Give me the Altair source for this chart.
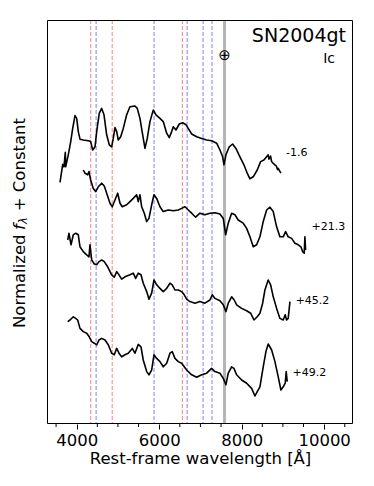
import altair as alt
import pandas as pd

# ---- spectra (rest wavelength [A], normalized flux + constant) ----
wl_a = [3595, 3661, 3692, 3724, 3733, 3796, 3855, 3903, 3959, 4000, 4039, 4080, 4160, 4281, 4339,
        4388, 4444, 4485, 4548, 4606, 4662, 4727, 4790, 4848, 4887, 4928, 4970, 5008, 5067, 5130,
        5212, 5292, 5413, 5469, 5534, 5600, 5656, 5711, 5777, 5857, 5922, 6019, 6099, 6182, 6245,
        6303, 6342, 6407, 6487, 6569, 6649, 6705, 6788, 6909, 7030, 7151, 7272, 7394, 7474, 7539,
        7571, 7619, 7699, 7781, 7861, 7958, 8055, 8135, 8201, 8281, 8378, 8460, 8540, 8644, 8660,
        8700, 8727, 8760, 8807, 8840, 8870, 8887, 8920, 8952]
fl_a = [6.04, 6.49, 6.43, 6.79, 6.43, 6.73, 7.06, 7.39, 7.71, 7.64, 7.31, 7.12, 7.10, 7.08, 7.06,
        6.85, 6.93, 7.31, 7.77, 7.89, 7.73, 7.23, 6.98, 6.93, 7.14, 7.41, 7.31, 7.10, 7.18, 7.39,
        7.73, 7.93, 7.95, 7.89, 7.64, 7.23, 6.89, 7.14, 7.56, 7.85, 7.73, 7.64, 7.56, 7.27, 7.16,
        7.31, 7.43, 7.35, 7.50, 7.53, 7.48, 7.39, 7.25, 7.18, 7.14, 7.10, 7.08, 7.02, 6.85, 6.68,
        6.48, 6.73, 6.93, 7.00, 6.89, 6.68, 6.48, 6.27, 6.13, 6.18, 6.35, 6.56, 6.60, 6.73, 6.62,
        6.70, 6.56, 6.52, 6.48, 6.45, 6.36, 6.39, 6.33, 6.27]

wl_b = [4160, 4201, 4267, 4298, 4339, 4402, 4461, 4524, 4606, 4669, 4727, 4807, 4863, 4928, 4994,
        5050, 5105, 5212, 5292, 5372, 5454, 5493, 5534, 5576, 5639, 5697, 5753, 5818, 5874, 5939,
        6019, 6099, 6220, 6342, 6463, 6545, 6625, 6705, 6788, 6885, 6989, 7110, 7231, 7352, 7474,
        7554, 7612, 7675, 7757, 7837, 7917, 8038, 8121, 8201, 8281, 8363, 8443, 8523, 8606, 8686,
        8766, 8848, 8928, 9008, 9066, 9129, 9212, 9292, 9372, 9437, 9478, 9517, 9534, 9551]
fl_b = [6.35, 6.27, 6.23, 6.31, 6.10, 5.89, 5.81, 5.93, 6.02, 5.95, 5.77, 5.52, 5.43, 5.60, 5.77,
        5.52, 5.43, 5.48, 5.56, 5.64, 5.73, 5.56, 5.73, 5.43, 5.27, 5.06, 5.14, 5.48, 5.73, 5.64,
        5.43, 5.31, 5.35, 5.33, 5.35, 5.39, 5.43, 5.35, 5.27, 5.17, 5.27, 5.23, 5.27, 5.28, 5.25,
        5.14, 4.73, 5.02, 5.27, 5.23, 5.10, 5.02, 4.89, 4.68, 4.43, 4.48, 4.68, 5.06, 5.35, 5.42,
        5.31, 4.93, 4.68, 4.68, 4.81, 4.68, 4.64, 4.52, 4.48, 4.43, 4.31, 4.27, 4.68, 4.35]

wl_c = [3782, 3813, 3862, 3918, 3976, 4039, 4080, 4160, 4242, 4298, 4322, 4364, 4427, 4485, 4541,
        4606, 4669, 4751, 4848, 4911, 4970, 5025, 5091, 5171, 5292, 5372, 5430, 5493, 5559, 5614,
        5697, 5753, 5818, 5874, 5939, 6019, 6099, 6182, 6262, 6317, 6383, 6463, 6545, 6608, 6666,
        6746, 6868, 6989, 7110, 7231, 7287, 7352, 7474, 7554, 7619, 7675, 7757, 7820, 7878, 7999,
        8121, 8218, 8298, 8378, 8443, 8509, 8564, 8644, 8703, 8766, 8848, 8928, 9008, 9056, 9090,
        9129, 9171]
fl_c = [4.60, 4.77, 4.48, 4.73, 4.77, 4.73, 4.43, 4.31, 4.23, 4.18, 4.48, 4.10, 4.00, 3.98, 4.06,
        4.10, 4.06, 3.93, 3.73, 3.67, 3.81, 3.73, 3.62, 3.68, 3.73, 3.77, 3.64, 3.77, 3.73, 3.52,
        3.31, 3.12, 3.27, 3.60, 3.48, 3.39, 3.31, 3.39, 3.52, 3.48, 3.35, 3.35, 3.31, 3.23, 3.12,
        3.06, 3.02, 3.06, 3.02, 3.10, 3.23, 3.14, 3.08, 2.98, 2.81, 3.02, 3.18, 3.10, 2.98, 2.89,
        2.83, 2.77, 2.60, 2.68, 2.77, 3.02, 3.35, 3.60, 3.48, 3.18, 2.89, 2.64, 2.60, 2.73, 2.60,
        2.64, 3.06]

wl_d = [3782, 3838, 3918, 3976, 4024, 4080, 4160, 4242, 4305, 4364, 4427, 4485, 4541, 4606, 4686,
        4766, 4848, 4911, 4970, 5025, 5091, 5171, 5251, 5348, 5413, 5493, 5559, 5614, 5697, 5753,
        5818, 5874, 5939, 6019, 6099, 6182, 6262, 6317, 6383, 6463, 6545, 6608, 6666, 6788, 6909,
        7030, 7151, 7272, 7352, 7474, 7554, 7619, 7675, 7757, 7813, 7878, 7999, 8121, 8242, 8322,
        8378, 8443, 8523, 8589, 8644, 8727, 8807, 8887, 8952, 9008, 9056, 9080, 9105]
fl_d = [2.56, 2.60, 2.68, 2.64, 2.60, 2.39, 2.31, 2.27, 2.18, 2.06, 2.02, 1.98, 2.10, 2.14, 2.10,
        1.98, 1.77, 1.73, 1.89, 1.77, 1.68, 1.73, 1.77, 1.89, 1.77, 1.99, 1.93, 1.60, 1.31, 1.23,
        1.35, 1.73, 1.64, 1.56, 1.43, 1.52, 1.77, 1.81, 1.64, 1.56, 1.52, 1.43, 1.35, 1.23, 1.17,
        1.23, 1.27, 1.39, 1.31, 1.27, 1.14, 0.98, 1.27, 1.43, 1.39, 1.23, 1.10, 1.02, 0.89, 0.70,
        0.81, 0.93, 1.43, 1.81, 2.00, 1.85, 1.56, 1.18, 0.85, 0.93, 1.02, 1.31, 1.06]

phases = ["-1.6", "+21.3", "+45.2", "+49.2"]
label_wl = [9074, 9696, 9309, 9236]
label_fl = [6.78, 4.93, 3.08, 1.28]

# line markers
h_lines = [4340, 4861, 6563]              # red (H)
he_lines = [4471, 5876, 6678, 7065, 7281]  # blue (He I)
telluric = [7585]
minor_ticks = [3500, 4500, 5000, 5500, 6500, 7000, 7500, 8500, 9000, 9500, 10500]
major_ticks = [4000, 6000, 8000, 10000]

FONT = "DejaVu Sans"

rows = []
for ph, wls, fls in zip(phases, [wl_a, wl_b, wl_c, wl_d], [fl_a, fl_b, fl_c, fl_d]):
    for w, f in zip(wls, fls):
        rows.append({"wl": w, "flux": f, "phase": ph})
spec = pd.DataFrame(rows)
labels = pd.DataFrame({"wl": label_wl, "flux": label_fl, "text": phases})

xscale = alt.Scale(domain=[3280, 10700], nice=False, zero=False)
yscale = alt.Scale(domain=[0, 10.1], nice=False, zero=False)

xaxis = alt.Axis(values=major_ticks, format="d", title="Rest-frame wavelength [Å]",
                 grid=False, domain=False, tickSize=5, tickColor="black", labelColor="black",
                 labelFont=FONT, labelFontSize=16.5, labelPadding=3, titleFont=FONT,
                 titleFontSize=16.5, titleFontWeight="normal", titleColor="black",
                 titlePadding=2)

rule_h = alt.Chart(pd.DataFrame({"wl": h_lines})).mark_rule(
    color="#ff8080", strokeDash=[4, 2], strokeWidth=1
).encode(x=alt.X("wl:Q", scale=xscale, axis=xaxis))

rule_he = alt.Chart(pd.DataFrame({"wl": he_lines})).mark_rule(
    color="#8080ff", strokeDash=[4, 2], strokeWidth=1
).encode(x="wl:Q")

rule_tel = alt.Chart(pd.DataFrame({"wl": telluric})).mark_rule(
    color="#b5b5b5", strokeWidth=3
).encode(x="wl:Q")

lines = alt.Chart(spec).mark_line(color="black", strokeWidth=1.6, strokeJoin="round").encode(
    x="wl:Q",
    y=alt.Y("flux:Q", scale=yscale, axis=None),
    detail="phase:N",
    order="wl:Q",
)

lab = alt.Chart(labels).mark_text(align="left", baseline="middle", font=FONT, fontSize=11,
                                   color="black").encode(x="wl:Q", y="flux:Q", text="text:N")

minor = alt.Chart(pd.DataFrame({"wl": minor_ticks})).mark_rule(color="black", strokeWidth=1).encode(
    x="wl:Q", y=alt.value(404), y2=alt.value(407))

frame = alt.Chart(pd.DataFrame({"a": [0]})).mark_rect(
    fill=None, stroke="black", strokeWidth=1
).encode(x=alt.value(0.5), x2=alt.value(305.5), y=alt.value(0.5), y2=alt.value(403.5))

earth = alt.Chart(pd.DataFrame({"wl": telluric, "t": ["⊕"]})).mark_text(
    font=FONT, fontSize=15, baseline="middle", align="center", color="black"
).encode(x="wl:Q", y=alt.value(35), text="t:N")

title = alt.Chart(pd.DataFrame({"t": ["SN2004gt"]})).mark_text(
    font=FONT, fontSize=19, align="right", baseline="middle", color="black"
).encode(x=alt.value(299), y=alt.value(16), text="t:N")

sntype = alt.Chart(pd.DataFrame({"t": ["Ic"]})).mark_text(
    font=FONT, fontSize=14, align="right", baseline="middle", color="black"
).encode(x=alt.value(288), y=alt.value(39), text="t:N")

# y-axis title: "Normalized f_λ + Constant"
yt1 = alt.Chart(pd.DataFrame({"t": ["Normalized"]})).mark_text(
    font=FONT, fontSize=16.5, angle=270, align="left", baseline="middle", color="black"
).encode(x=alt.value(-27), y=alt.value(308), text="t:N")
yt2 = alt.Chart(pd.DataFrame({"t": ["f"]})).mark_text(
    font=FONT, fontSize=16.5, fontStyle="italic", angle=270, align="left", baseline="middle",
    color="black"
).encode(x=alt.value(-27), y=alt.value(210), text="t:N")
yt3 = alt.Chart(pd.DataFrame({"t": ["λ"]})).mark_text(
    font=FONT, fontSize=11.5, fontStyle="italic", angle=270, align="left", baseline="middle",
    color="black"
).encode(x=alt.value(-23), y=alt.value(204), text="t:N")
yt4 = alt.Chart(pd.DataFrame({"t": ["+ Constant"]})).mark_text(
    font=FONT, fontSize=16.5, angle=270, align="right", baseline="middle", color="black"
).encode(x=alt.value(-27), y=alt.value(98), text="t:N")

chart = alt.layer(
    rule_h, rule_he, rule_tel, lines, lab, minor, frame, earth, title, sntype, yt1, yt2, yt3, yt4
).properties(
    width=306, height=404,
    padding={"left": 39, "top": 12, "right": 13, "bottom": 50},
    autosize=alt.AutoSizeParams(type="none"),
).configure(background="white").configure_view(stroke=None)

chart.save("out.html", embed_options={"renderer": "svg", "actions": False})
